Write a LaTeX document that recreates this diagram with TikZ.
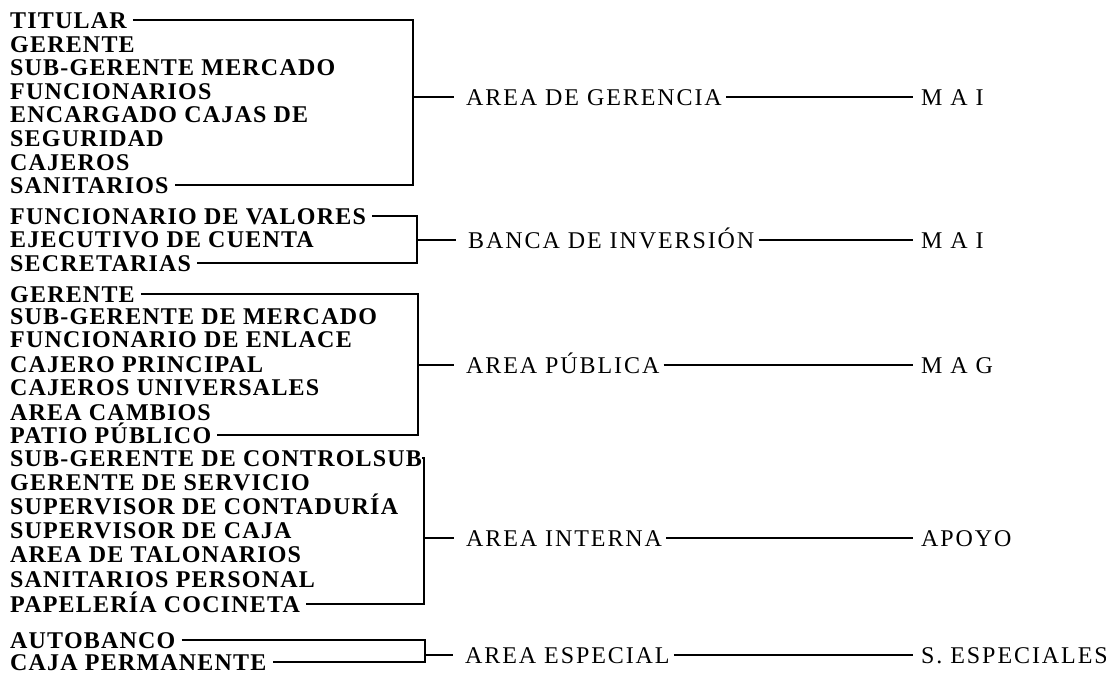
\documentclass[tikz,border=0pt]{standalone}
\usepackage{fontspec}
\setmainfont{Liberation Serif}
\newfontfamily\leftfont{Liberation Serif}[LetterSpace=5]
\newfontfamily\labfont{Liberation Serif}[LetterSpace=8]
\begin{document}
\begin{tikzpicture}[x=1pt,y=-1pt,
  item/.style={anchor=base west, inner xsep=0pt, inner ysep=0pt, text height=16pt, text depth=0pt,
    font=\leftfont\bfseries\fontsize{24}{24}\selectfont},
  lab/.style={anchor=base west, inner xsep=0pt, inner ysep=0pt, text height=16pt, text depth=0pt,
    font=\labfont\fontsize{24}{24}\selectfont},
  conn/.style={line width=1.5pt, black},
  brk/.style={conn, shorten <=6pt, shorten >=6pt},
  stub/.style={conn, shorten >=12pt},
  link/.style={conn, shorten <=4pt, shorten >=8pt}]
\useasboundingbox (0,0) rectangle (1106,675);
% ---------- group 1
\node[item] (a1) at (10,28) {TITULAR};
\node[item] (a2) at (10,52) {GERENTE};
\node[item] (a3) at (10,75) {SUB-GERENTE MERCADO};
\node[item] (a4) at (10,99) {FUNCIONARIOS};
\node[item] (a5) at (10,122) {ENCARGADO CAJAS DE};
\node[item] (a6) at (10,146) {SEGURIDAD};
\node[item] (a7) at (10,170) {CAJEROS};
\node[item] (a8) at (10,193) {SANITARIOS};
\node[lab] (la) at (466,105) {AREA DE GERENCIA};
\node[lab] (ra) at (921,105) {M A I};
\coordinate (xa) at (413,0);
\draw[brk] (a1.east) -- (a1.east -| xa) -- (a8.east -| xa) -- (a8.east);
\draw[stub] (la.west -| xa) -- (la.west);
\draw[link] (la.east) -- (ra.west);
% ---------- group 2
\node[item] (b1) at (10,224) {FUNCIONARIO DE VALORES};
\node[item] (b2) at (10,247) {EJECUTIVO DE CUENTA};
\node[item] (b3) at (10,271) {SECRETARIAS};
\node[lab] (lb) at (468,248) {BANCA DE INVERSIÓN};
\node[lab] (rb) at (921,248) {M A I};
\coordinate (xb) at (417,0);
\draw[brk] (b1.east) -- (b1.east -| xb) -- (b3.east -| xb) -- (b3.east);
\draw[stub] (lb.west -| xb) -- (lb.west);
\draw[link] (lb.east) -- (rb.west);
% ---------- group 3
\node[item] (c1) at (10,302) {GERENTE};
\node[item] (c2) at (10,324) {SUB-GERENTE DE MERCADO};
\node[item] (c3) at (10,347) {FUNCIONARIO DE ENLACE};
\node[item] (c4) at (10,372) {CAJERO PRINCIPAL};
\node[item] (c5) at (10,395) {CAJEROS UNIVERSALES};
\node[item] (c6) at (10,420) {AREA CAMBIOS};
\node[item] (c7) at (10,443) {PATIO PÚBLICO};
\node[lab] (lc) at (466,373) {AREA PÚBLICA};
\node[lab] (rc) at (921,373) {M A G};
\coordinate (xc) at (418,0);
\draw[brk] (c1.east) -- (c1.east -| xc) -- (c7.east -| xc) -- (c7.east);
\draw[stub] (lc.west -| xc) -- (lc.west);
\draw[link] (lc.east) -- (rc.west);
% ---------- group 4
\node[item] (d1) at (10,466) {SUB-GERENTE DE CONTROLSUB};
\node[item] (d2) at (10,490) {GERENTE DE SERVICIO};
\node[item] (d3) at (10,514) {SUPERVISOR DE CONTADURÍA};
\node[item] (d4) at (10,538) {SUPERVISOR DE CAJA};
\node[item] (d5) at (10,562) {AREA DE TALONARIOS};
\node[item] (d6) at (10,587) {SANITARIOS PERSONAL};
\node[item] (d7) at (10,612) {PAPELERÍA COCINETA};
\node[lab] (ld) at (466,546) {AREA INTERNA};
\node[lab] (rd) at (921,546) {APOYO};
\coordinate (xd) at (424,0);
\draw[conn, shorten >=6pt] (d1.east) -- (d1.east -| xd) -- (d7.east -| xd) -- (d7.east);
\draw[stub] (ld.west -| xd) -- (ld.west);
\draw[link] (ld.east) -- (rd.west);
% ---------- group 5
\node[item] (e1) at (10,648) {AUTOBANCO};
\node[item] (e2) at (10,670) {CAJA PERMANENTE};
\node[lab] (le) at (465,663) {AREA ESPECIAL};
\node[lab] (re) at (921,663) {S. ESPECIALES};
\coordinate (xe) at (425,0);
\draw[brk] (e1.east) -- (e1.east -| xe) -- (e2.east -| xe) -- (e2.east);
\draw[stub] (le.west -| xe) -- (le.west);
\draw[link] (le.east) -- (re.west);
\end{tikzpicture}
\end{document}
